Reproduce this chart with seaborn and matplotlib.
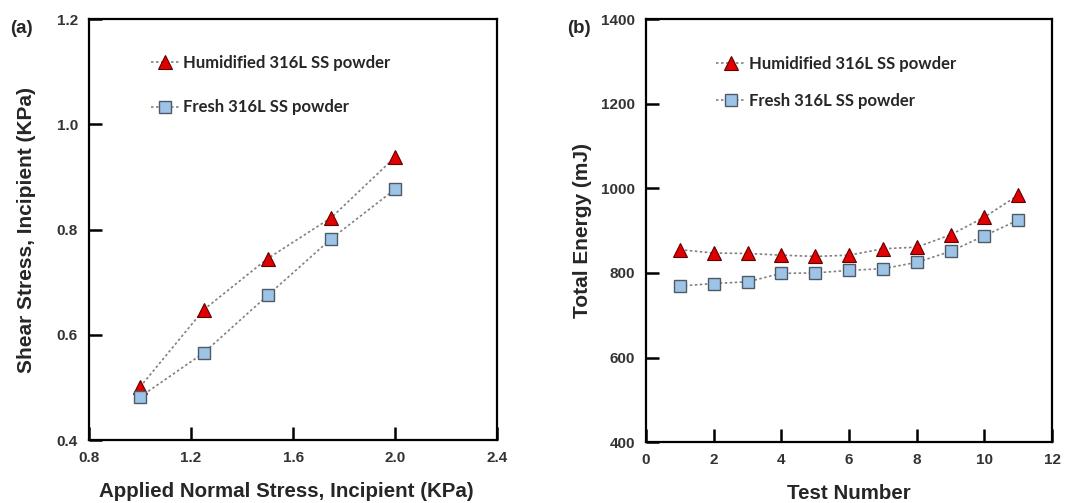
import matplotlib
matplotlib.use("Agg")
import matplotlib.pyplot as plt
import seaborn as sns
import pandas as pd

# ---- data ----
normal_stress = [1.0, 1.25, 1.5, 1.75, 2.0]
shear_humidified = [0.501, 0.648, 0.745, 0.823, 0.938]
shear_fresh = [0.482, 0.566, 0.675, 0.783, 0.877]

test_number = [1, 2, 3, 4, 5, 6, 7, 8, 9, 10, 11]
energy_humidified = [855, 847, 846, 842, 839, 842, 857, 861, 890, 932, 984]
energy_fresh = [769, 775, 779, 799, 800, 806, 810, 825, 851, 888, 925]

label_hum = "Humidified 316L SS powder"
label_fresh = "Fresh 316L SS powder"

sns.set_style("white")
plt.rcParams['font.family'] = ['Liberation Sans', 'DejaVu Sans']

fig = plt.figure(figsize=(10.83, 5.03), dpi=100)
ax1 = fig.add_axes([0.0822, 0.125, 0.377, 0.837])
ax2 = fig.add_axes([0.5965, 0.121, 0.375, 0.841])

line_kw = dict(color="#808080", linestyle=(0, (1.5, 1.5)), linewidth=1.2)
tri_kw = dict(marker="^", markersize=9.5, markerfacecolor="#e00000",
              markeredgecolor="#600000", markeredgewidth=0.8)
sq_kw = dict(marker="s", markersize=8.5, markerfacecolor="#9dc3e6",
             markeredgecolor="#505a66", markeredgewidth=1.0)


def draw(ax, x, yh, yf):
    sns.lineplot(x=x, y=yh, ax=ax, label=label_hum, **line_kw, **tri_kw)
    sns.lineplot(x=x, y=yf, ax=ax, label=label_fresh, **line_kw, **sq_kw)


draw(ax1, normal_stress, shear_humidified, shear_fresh)
draw(ax2, test_number, energy_humidified, energy_fresh)

ax1.set_xlim(0.8, 2.4)
ax1.set_ylim(0.4, 1.2)
ax1.set_xticks([0.8, 1.2, 1.6, 2.0, 2.4])
ax1.set_yticks([0.4, 0.6, 0.8, 1.0, 1.2])
ax1.set_xticklabels(["0.8", "1.2", "1.6", "2.0", "2.4"])
ax1.set_yticklabels(["0.4", "0.6", "0.8", "1.0", "1.2"])
ax1.set_xlabel("Applied Normal Stress, Incipient (KPa)", fontsize=14.8,
               fontweight="bold", labelpad=12)
ax1.xaxis.label.set_x(0.484)
ax1.set_ylabel("Shear Stress, Incipient (KPa)", fontsize=15,
               fontweight="bold", labelpad=15)

ax2.set_xlim(0, 12)
ax2.set_ylim(400, 1400)
ax2.set_xticks([0, 2, 4, 6, 8, 10, 12])
ax2.set_yticks([400, 600, 800, 1000, 1200, 1400])
ax2.set_xlabel("Test Number", fontsize=14.8, fontweight="bold", labelpad=12)
ax2.set_ylabel("Total Energy (mJ)", fontsize=15, fontweight="bold",
               labelpad=6.5)

for ax in (ax1, ax2):
    for s in ax.spines.values():
        s.set_visible(True)
        s.set_linewidth(1.6)
        s.set_color("black")
    ax.tick_params(direction="in", length=9.5, width=1.8, labelsize=11,
                   pad=8, colors="black", labelcolor="#333333",
                   bottom=True, left=True, top=False, right=False)
    for t in ax.get_xticklabels() + ax.get_yticklabels():
        t.set_fontweight("bold")
    ax.grid(False)

leg_font = {"family": ["Lato", "DejaVu Sans"], "weight": "bold", "size": 12}
ax1.legend(loc="upper left", bbox_to_anchor=(0.115, 0.95), frameon=False,
           prop=leg_font, handlelength=1.7, handletextpad=0.2,
           labelspacing=1.7)
ax2.legend(loc="upper left", bbox_to_anchor=(0.135, 0.948), frameon=False,
           prop=leg_font, handlelength=1.8, handletextpad=0.2,
           labelspacing=1.25)

fig.text(0.009, 0.935, "(a)", fontsize=13.5, fontweight="bold")
fig.text(0.524, 0.935, "(b)", fontsize=13.5, fontweight="bold")

fig.savefig("out.png", dpi=100)
